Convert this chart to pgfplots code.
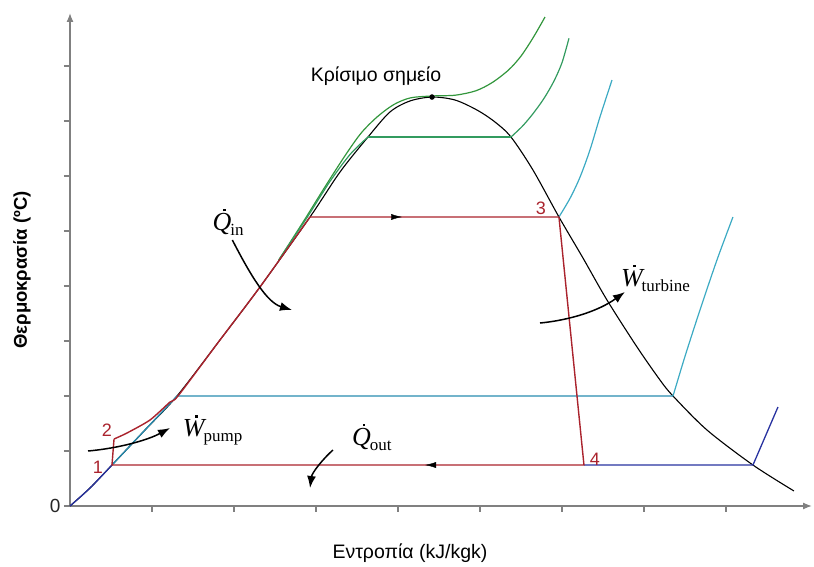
\documentclass[border=0pt]{standalone}
\usepackage{fontspec}
\setmainfont{Liberation Sans}
\newfontfamily\tnr{Liberation Serif}
\usepackage{pgfplots}
\pgfplotsset{compat=1.18}
\usetikzlibrary{arrows.meta,decorations.markings}

\definecolor{cred}{RGB}{170,35,45}
\definecolor{cteal}{RGB}{40,140,175}
\definecolor{cteall}{RGB}{60,170,195}
\definecolor{cblue}{RGB}{40,50,160}
\definecolor{cgreen}{RGB}{50,150,60}
\definecolor{cgreenb}{RGB}{50,155,95}

\newcommand\dotlet[1]{\setbox0\hbox{\itshape #1}\rlap{\hbox to\wd0{\hss\kern5pt\raisebox{19pt}{\rule{2.6pt}{2.6pt}}\hss}}\box0}
\newcommand\flux[2]{\mbox{\tnr\fontsize{26}{26}\selectfont\dotlet{#1}\kern-1pt\raisebox{-5pt}{\fontsize{17}{17}\selectfont #2}}}

\begin{document}
\begin{tikzpicture}
\useasboundingbox (-70pt,-61pt) rectangle (744pt,506pt);
\begin{axis}[
 at={(0pt,0pt)}, anchor=south west,
 scale only axis, width=742pt, height=493pt,
 xmin=0, xmax=9.049, ymin=0, ymax=8.964,
 axis lines=left,
 axis line style={draw=gray, line width=1.3pt, -{Latex[length=9pt,width=7pt]}},
 xtick={1,...,8}, xticklabels={},
 ytick={0,...,8}, yticklabels={0,{},{},{},{},{},{},{},{}},
 tick align=outside, major tick length=6pt,
 tick style={draw=gray, line width=1.2pt},
 yticklabel style={font=\fontsize{19}{19}\selectfont, text=black!85},
 clip=false,
]
% saturation dome
\addplot[black, line width=1.1pt, smooth, tension=0.5] coordinates {
 (0,0) (0.244,0.327) (0.512,0.745) (0.915,1.382) (1.305,2.0) (1.829,3.018)
 (2.317,3.982) (2.927,5.255) (3.293,6.073) (3.634,6.709) (3.902,7.164)
 (4.146,7.364) (4.415,7.436) (4.695,7.382) (4.963,7.2) (5.183,6.982)
 (5.378,6.709) (5.646,6.109) (5.963,5.255) (6.256,4.509) (6.549,3.745)
 (6.915,2.891) (7.195,2.291) (7.354,2.0) (7.768,1.382) (8.329,0.745) (8.829,0.273)};
% outer green (supercritical)
\addplot[cgreen, line width=1.2pt, smooth] coordinates {
 (2.546,4.473) (2.85,5.18) (3.10,5.78) (3.35,6.36) (3.55,6.78) (3.75,7.08)
 (3.95,7.30) (4.15,7.42) (4.415,7.455) (4.70,7.47) (4.95,7.55) (5.15,7.70)
 (5.35,7.93) (5.50,8.18) (5.65,8.52) (5.793,8.891)};
% inner green
\addplot[cgreenb, line width=1.2pt, smooth] coordinates {
 (2.546,4.473) (2.88,5.22) (3.17,5.90) (3.42,6.40) (3.634,6.709)};
\addplot[cgreenb, line width=1.2pt] coordinates {(3.634,6.709) (5.378,6.709)};
\addplot[cgreenb, line width=1.2pt, smooth] coordinates {
 (5.378,6.709) (5.52,6.91) (5.65,7.14) (5.78,7.41) (5.90,7.72) (6.0,8.06) (6.085,8.503)};
% teal isobar at state 3
\addplot[cteall, line width=1.2pt, smooth] coordinates {
 (5.963,5.255) (6.10,5.60) (6.22,5.98) (6.341,6.473) (6.463,7.073) (6.61,7.745)};
% teal isobar (intermediate)
\addplot[cteal, line width=1.3pt] coordinates {(0.512,0.745) (1.305,2.0) (7.354,2.0)};
\addplot[cteall, line width=1.2pt, smooth] coordinates {
 (7.354,2.0) (7.50,2.72) (7.683,3.564) (7.890,4.473) (8.085,5.255)};
% blue low-pressure isobar
\addplot[cblue, line width=1.3pt, smooth] coordinates {(0,0) (0.244,0.327) (0.512,0.745)};
\addplot[cblue, line width=1.3pt] coordinates {(6.268,0.745) (8.329,0.745) (8.634,1.8)};
% Rankine cycle
\addplot[cred, line width=1.4pt, smooth, tension=0.4] coordinates {
 (0.537,1.218) (0.695,1.327) (0.976,1.564) (1.22,1.891) (1.317,2.0) (1.829,3.018)
 (2.317,3.982) (2.927,5.255)};
\addplot[cred, line width=1.4pt] coordinates {
 (2.927,5.255) (5.963,5.255) (6.268,0.745) (0.512,0.745) (0.537,1.218)};
% direction arrows on cycle
\addplot[draw=none, postaction={decorate}, decoration={markings,
 mark=at position 1 with {\arrow{Latex[length=11pt,width=6pt]}}}]
 coordinates {(2.927,5.255) (4.05,5.255)};
\addplot[draw=none, postaction={decorate}, decoration={markings,
 mark=at position 1 with {\arrow{Latex[length=11pt,width=6pt]}}}]
 coordinates {(6.268,0.745) (4.33,0.745)};
% critical point
\addplot[only marks, mark=*, mark size=2.5pt, black] coordinates {(4.415,7.436)};

% annotations
\draw[line width=1.5pt, -{Latex[length=12pt,width=9pt]}] (axis cs:1.98,4.836) .. controls (axis cs:2.2,4.2) and (axis cs:2.4,3.7) .. (axis cs:2.707,3.564);
\draw[line width=1.5pt, -{Latex[length=12pt,width=9pt]}] (axis cs:0.22,1.0) .. controls (axis cs:0.6,1.05) and (axis cs:0.95,1.2) .. (axis cs:1.22,1.418);
\draw[line width=1.5pt, -{Latex[length=12pt,width=9pt]}] (axis cs:5.732,3.327) .. controls (axis cs:6.1,3.38) and (axis cs:6.45,3.55) .. (axis cs:6.768,3.891);
\draw[line width=1.5pt, -{Latex[length=12pt,width=9pt]}] (axis cs:3.207,1.018) .. controls (axis cs:3.08,0.85) and (axis cs:2.95,0.6) .. (axis cs:2.927,0.327);

\node at (axis cs:1.927,5.164) {\flux{Q}{in}};
\node at (axis cs:1.74,1.38) {\flux{W}{pump}};
\node at (axis cs:7.14,4.145) {\flux{W}{turbine}};
\node at (axis cs:3.68,1.255) {\flux{Q}{out}};

\node[text=cred, font=\fontsize{18}{18}\selectfont] at (axis cs:0.341,0.709) {1};
\node[text=cred, font=\fontsize{18}{18}\selectfont] at (axis cs:0.451,1.382) {2};
\node[text=cred, font=\fontsize{18}{18}\selectfont] at (axis cs:5.744,5.418) {3};
\node[text=cred, font=\fontsize{18}{18}\selectfont] at (axis cs:6.40,0.855) {4};

\node[font=\fontsize{19.5}{19.5}\selectfont] at (axis cs:3.732,7.818) {Κρίσιμο σημείο};
\node[font=\fontsize{19.5}{19.5}\selectfont] at (axis cs:4.146,-0.855) {Εντροπία (kJ/kgk)};
\node[rotate=90, font=\bfseries\fontsize{18.5}{18.5}\selectfont] at (axis cs:-0.585,4.29) {Θερμοκρασία (ºC)};
\end{axis}
\end{tikzpicture}
\end{document}
